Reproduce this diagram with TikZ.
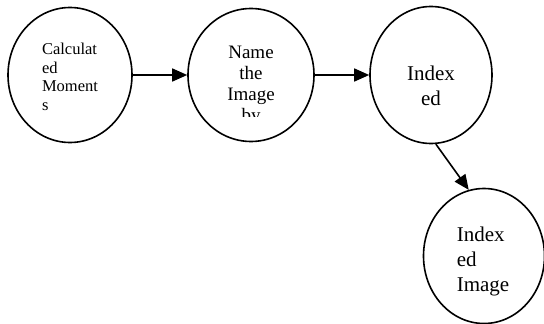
\documentclass[tikz,border=0pt]{standalone}
\usepackage{fontspec}
\setmainfont{Liberation Serif}
\usetikzlibrary{shapes.geometric,arrows.meta}
\begin{document}
\begin{tikzpicture}[x=1pt,y=-1pt,
  bubble/.style={ellipse, draw, line width=1.6pt, inner sep=0pt},
  flow/.style={-{Triangle[length=15pt,width=13pt]}, line width=1.6pt},
  label/.style={inner sep=0pt, text depth=0pt}]
\useasboundingbox (0,0) rectangle (544,324);
\node[bubble, minimum width=124pt, minimum height=135pt] (c1) at (70,75) {};
\node[bubble, minimum width=126pt, minimum height=133pt] (c2) at (251,75) {};
\node[bubble, minimum width=122pt, minimum height=137pt] (c3) at (431,75) {};
\node[bubble, minimum width=121pt, minimum height=135pt] (c4) at (484,256) {};
\node[label, align=left, font=\fontsize{16.5}{18.5}\selectfont] (t1) at (70,77) {Calculat\\ed\\Moment\\s};
\begin{scope}
\clip (190,20) rectangle (312,116);
\node[label, align=center, font=\fontsize{19}{21}\selectfont] (t2) at (251,84) {Name\\the\\Image\\by};
\end{scope}
\node[label, align=center, font=\fontsize{21}{25}\selectfont] (t3) at (431,86) {Index\\ed};
\node[label, align=left, font=\fontsize{21}{25}\selectfont] (t4) at (483,259) {Index\\ed\\Image};
\draw[flow] (c1) -- (c2);
\draw[flow] (c2) -- (c3);
\draw[flow] (c3.-86.6) -- (c4.103.4);
\end{tikzpicture}
\end{document}
